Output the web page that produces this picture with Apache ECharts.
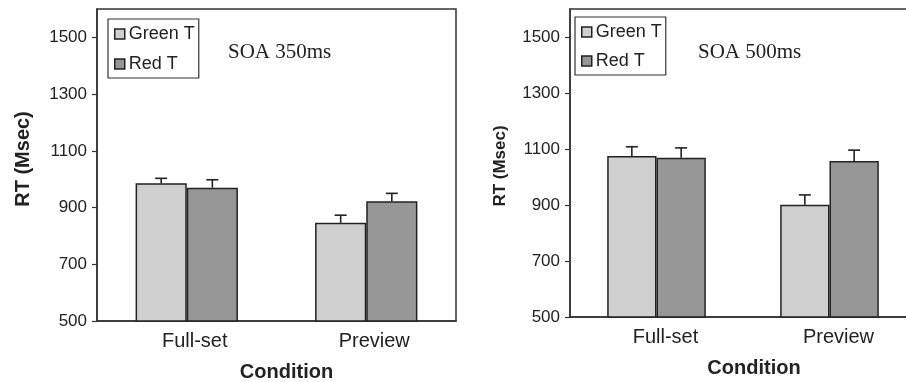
<!DOCTYPE html>
<html>
<head>
<meta charset="utf-8">
<script src="https://cdn.jsdelivr.net/npm/echarts@6/dist/echarts.min.js"></script>
<style>html,body{margin:0;padding:0;background:#fff;}#c{width:906px;height:382px;}</style>
</head>
<body>
<div id="c"></div>
<script>
const categories = ['Full-set', 'Preview'];
const yTicks = [500, 700, 900, 1100, 1300, 1500];
// SOA 350ms
const green350 = [986, 846];
const red350 = [970, 922];
const greenErr350 = [17, 27];
const redErr350 = [28, 28];
// SOA 500ms
const green500 = [1075, 901];
const red500 = [1069, 1057];
const greenErr500 = [33, 35];
const redErr500 = [35, 39];

const GAP = 0.43;
const SANS = 'Liberation Sans';
const SERIF = 'Liberation Serif';
const DARK = '#222';
const GREEN_C = '#d0d0d0';
const RED_C = '#979797';

function errData(g, gE, r, rE) {
  const out = [];
  for (let i = 0; i < categories.length; i++) {
    out.push([i, g[i], gE[i], 0]);
    out.push([i, r[i], rE[i], 1]);
  }
  return out;
}
function renderErr(params, api) {
  const c = api.value(0), v = api.value(1), e = api.value(2), s = api.value(3);
  const band = api.size([1, 0])[0];
  const bw = band * (1 - GAP) / 2;
  const base = api.coord([c, v]);
  const top = api.coord([c, v + e]);
  const x = base[0] + (s - 0.5) * bw;
  const st = { stroke: DARK, lineWidth: 1.6 };
  return { type: 'group', children: [
    { type: 'line', shape: { x1: x, y1: base[1], x2: x, y2: top[1] }, style: st },
    { type: 'line', shape: { x1: x - 6, y1: top[1], x2: x + 6, y2: top[1] }, style: st }
  ]};
}

function xAx(gi, shift) {
  return {
    type: 'category', gridIndex: gi, data: categories,
    axisLine: { lineStyle: { color: '#333', width: 1.5 } },
    axisTick: { length: 5, lineStyle: { color: '#333', width: 1.2 } },
    axisLabel: { color: '#222', fontFamily: SANS, fontSize: 20, margin: 10, padding: [0, 0, 0, shift] },
    name: 'Condition', nameLocation: 'middle', nameGap: 41,
    nameTextStyle: { color: '#222', fontFamily: SANS, fontWeight: 'bold', fontSize: 20, padding: [0, 0, 0, shift + 4] }
  };
}
function yAx(gi, nameSize, nameGap, namePad) {
  return {
    type: 'value', gridIndex: gi, min: 500, max: 1600, interval: 100,
    splitLine: { show: false },
    axisLine: { show: true, lineStyle: { color: '#333', width: 1.5 } },
    axisTick: { show: true, length: 5, customValues: yTicks, lineStyle: { color: '#333', width: 1.2 } },
    axisLabel: { color: '#222', fontFamily: SANS, fontSize: 17, margin: 10, customValues: yTicks,
      formatter: function (v) { return String(v); } },
    name: 'RT (Msec)', nameLocation: 'middle', nameGap: nameGap,
    nameTextStyle: { color: '#222', fontFamily: SANS, fontWeight: 'bold', fontSize: nameSize, padding: namePad }
  };
}
function bar(name, data, color, gi) {
  return {
    name: name, type: 'bar', xAxisIndex: gi, yAxisIndex: gi, data: data,
    barGap: '0%', barCategoryGap: (GAP * 100) + '%',
    itemStyle: { color: color, borderColor: DARK, borderWidth: 1.5 },
    emphasis: { disabled: true }
  };
}
function legend(left, top, itemGap, pad) {
  return {
    left: left, top: top, orient: 'vertical', data: ['Green T', 'Red T'],
    icon: 'rect', itemWidth: 10, itemHeight: 10, itemGap: itemGap,
    borderColor: '#333', borderWidth: 1.2, padding: pad,
    itemStyle: { borderColor: DARK, borderWidth: 1.5 },
    textStyle: { color: '#222', fontFamily: SANS, fontSize: 18, lineHeight: 20, padding: [0, 0, 0, -1] },
    selectedMode: false
  };
}

const chart = echarts.init(document.getElementById('c'));
chart.setOption({
  animation: false,
  grid: [
    { left: 97, top: 9, width: 359, height: 312, show: true, borderColor: '#333', borderWidth: 1.5,
      containLabel: false, outerBoundsMode: 'none' },
    { left: 570, top: 9, width: 346, height: 308, show: true, borderColor: '#333', borderWidth: 1.5,
      containLabel: false, outerBoundsMode: 'none' }
  ],
  xAxis: [xAx(0, 16), xAx(1, 18)],
  yAxis: [yAx(0, 20, 64, [0, 0, 0, 12]), yAx(1, 17, 61, [0, 6, 0, 0])],
  legend: [legend(108, 19, 10, [5, 4, 4, 6]), legend(575, 17, 9, [5, 4, 4, 6])],
  graphic: [
    { type: 'text', left: 228, top: 42, style: { text: 'SOA 350ms', fontFamily: SERIF, fontSize: 21, fill: '#222' } },
    { type: 'text', left: 698, top: 42, style: { text: 'SOA 500ms', fontFamily: SERIF, fontSize: 21, fill: '#222' } }
  ],
  series: [
    bar('Green T', green350, GREEN_C, 0),
    bar('Red T', red350, RED_C, 0),
    bar('Green T', green500, GREEN_C, 1),
    bar('Red T', red500, RED_C, 1),
    { name: 'err350', type: 'custom', xAxisIndex: 0, yAxisIndex: 0, z: 5, renderItem: renderErr,
      data: errData(green350, greenErr350, red350, redErr350), silent: true },
    { name: 'err500', type: 'custom', xAxisIndex: 1, yAxisIndex: 1, z: 5, renderItem: renderErr,
      data: errData(green500, greenErr500, red500, redErr500), silent: true }
  ]
});
</script>
</body>
</html>
